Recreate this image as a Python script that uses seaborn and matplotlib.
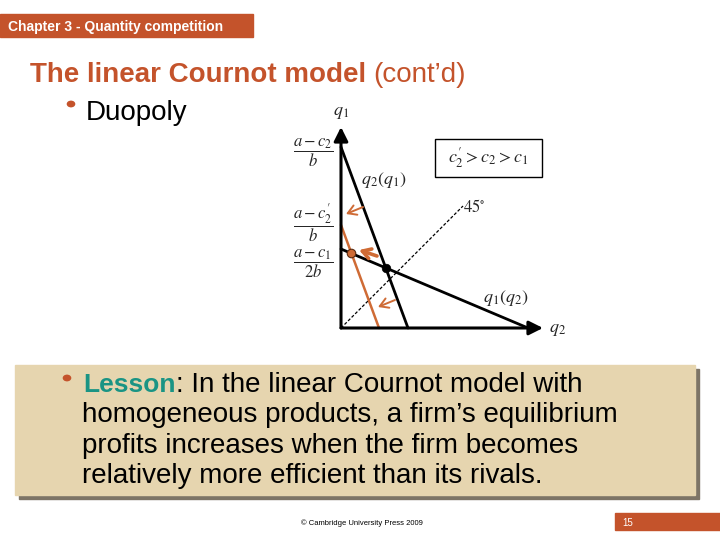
import matplotlib
matplotlib.use("Agg")
import matplotlib.pyplot as plt
import seaborn as sns
from matplotlib.patches import Rectangle, Circle

# Reaction functions (q2 on the horizontal axis, q1 on the vertical axis)
q2_axis_end = 20.2
q1_axis_top = 20.1
br2_q2 = [0, 6.7]        # q2(q1) with cost c2
br2_q1 = [18.1, 0]
br2_new_q2 = [0, 3.8]    # q2(q1) with cost c2'
br2_new_q1 = [10.3, 0]
br1_q2 = [0, 18.7]       # q1(q2)
br1_q1 = [7.9, 0]
diag_q2 = [0, 12.2]      # 45 degree line
diag_q1 = [0, 12.2]

# shift arrows, tail -> head
arrow_tails = [(2.2, 12.1), (3.6, 7.2), (5.4, 2.8)]
arrow_heads = [(0.5, 11.4), (1.8, 7.8), (3.7, 2.1)]
arrow_widths = [1.4, 2.6, 1.4]

intercept_labels = [r"$\dfrac{a-c_2}{b}$", r"$\dfrac{a-c_2^{\prime}}{b}$", r"$\dfrac{a-c_1}{2b}$"]
intercept_levels = [17.5, 10.5, 6.4]

lesson_first = ": In the linear Cournot model with"
lesson_rest = [
    "homogeneous products, a firm\u2019s equilibrium",
    "profits increases when the firm becomes",
    "relatively more efficient than its rivals.",
]

ORANGE = "#C4532B"
LINE_ORANGE = "#CF6B35"
TEAL = "#1A9484"

sns.set_theme(style="white")
plt.rcParams["font.family"] = ["Liberation Sans", "DejaVu Sans"]
plt.rcParams["mathtext.fontset"] = "stix"


def crossing(xa, ya, xb, yb):
    ma = (ya[1] - ya[0]) / (xa[1] - xa[0])
    mb = (yb[1] - yb[0]) / (xb[1] - xb[0])
    x = (yb[0] - ya[0]) / (ma - mb)
    return x, ya[0] + ma * x


W, H = 720, 540
fig = plt.figure(figsize=(7.2, 5.4), dpi=100)
fig.patch.set_facecolor("white")


def px(x, y):
    return x / W, 1 - y / H


# slide decoration
fig.patches.append(Rectangle(px(0, 37), 253 / W, 23 / H, transform=fig.transFigure,
                             color=ORANGE, zorder=0))
fig.text(*px(8, 31), "Chapter 3 - Quantity competition", color="white",
         fontsize=10, fontweight="bold", va="baseline")
fig.text(*px(30, 82), "The linear Cournot model", color=ORANGE,
         fontsize=20, fontweight="bold", va="baseline")
fig.text(*px(373, 82), "(cont\u2019d)", color=ORANGE, fontsize=20, va="baseline")
fig.patches.append(Circle(px(71, 104), 3.6 / W, transform=fig.transFigure, color=ORANGE))
fig.text(*px(86, 120), "Duopoly", color="black", fontsize=20, va="baseline")

# lesson box
fig.patches.append(Rectangle(px(19, 499), 680 / W, 130 / H, transform=fig.transFigure,
                             color="#7d7466", zorder=0))
fig.patches.append(Rectangle(px(15, 495), 680 / W, 130 / H, transform=fig.transFigure,
                             color="#E6D5AF", zorder=0))
fig.patches.append(Circle(px(67, 378), 3.6 / W, transform=fig.transFigure, color=ORANGE))
lesson = fig.text(*px(83, 392), "Lesson", color=TEAL, fontsize=19, fontweight="bold",
                  va="baseline")
renderer = fig.canvas.get_renderer()
lesson_end = lesson.get_window_extent(renderer).x1
fig.text(lesson_end / W + 1 / W, 1 - 392 / H, lesson_first, color="black",
         fontsize=20, va="baseline")
for i, line in enumerate(lesson_rest):
    fig.text(*px(82, 422 + 30.7 * i), line, color="black", fontsize=20, va="baseline")

fig.text(*px(362, 525), "\u00a9 Cambridge University Press 2009", color="black",
         fontsize=5.5, ha="center", va="baseline")
fig.patches.append(Rectangle(px(615, 530), 105 / W, 17 / H, transform=fig.transFigure,
                             color=ORANGE, zorder=0))
fig.text(*px(622, 526), "15", color="white", fontsize=7, va="baseline")

# diagram
ax = fig.add_axes([288 / W, 1 - 343 / H, 285 / W, 241 / H])
ax.set_facecolor("white")
ax.set_xlim(-5.3, 23.2)
ax.set_ylim(-1.5, 22.6)
ax.set_xticks([])
ax.set_yticks([])
sns.despine(ax=ax, left=True, bottom=True)

axis_arrow = dict(arrowstyle="-|>,head_length=0.7,head_width=0.35", color="black",
                  lw=2.2, shrinkA=0, shrinkB=0, mutation_scale=12)
ax.annotate("", xy=(0, q1_axis_top), xytext=(0, 0), arrowprops=axis_arrow)
ax.annotate("", xy=(q2_axis_end, 0), xytext=(0, 0), arrowprops=axis_arrow)

sns.lineplot(x=diag_q2, y=diag_q1, ax=ax, color="black", lw=0.9, linestyle=(0, (2.5, 1.5)))
sns.lineplot(x=br2_q2, y=br2_q1, ax=ax, color="black", lw=2.0)
sns.lineplot(x=br1_q2, y=br1_q1, ax=ax, color="black", lw=2.0)
sns.lineplot(x=br2_new_q2, y=br2_new_q1, ax=ax, color=LINE_ORANGE, lw=1.8)

eq_old = crossing(br2_q2, br2_q1, br1_q2, br1_q1)
eq_new = crossing(br2_new_q2, br2_new_q1, br1_q2, br1_q1)
sns.scatterplot(x=[eq_old[0]], y=[eq_old[1]], ax=ax, color="black", s=38,
                edgecolor="black", zorder=5)
sns.scatterplot(x=[eq_new[0]], y=[eq_new[1]], ax=ax, color=LINE_ORANGE, s=38,
                edgecolor="#5a2a10", linewidth=0.8, zorder=5)

for tail, head, w in zip(arrow_tails, arrow_heads, arrow_widths):
    ax.annotate("", xy=head, xytext=tail,
                arrowprops=dict(arrowstyle="->,head_length=0.5,head_width=0.3",
                                color=LINE_ORANGE, lw=w, shrinkA=0, shrinkB=0,
                                mutation_scale=12))

for lab, lev in zip(intercept_labels, intercept_levels):
    ax.text(-2.8, lev, lab, fontsize=12, ha="center", va="center")

ax.text(0, q1_axis_top + 0.6, r"$q_1$", fontsize=13, ha="center", va="bottom")
ax.text(q2_axis_end + 0.6, -0.2, r"$q_2$", fontsize=13, ha="left", va="center")
ax.text(4.25, 14.85, r"$q_2(q_1)$", fontsize=13, ha="center", va="center")
ax.text(16.45, 2.95, r"$q_1(q_2)$", fontsize=13, ha="center", va="center")
ax.text(13.3, 12.2, r"$45^{\circ}$", fontsize=12, ha="center", va="center")
ax.add_patch(Rectangle((9.4, 15.1), 10.7, 3.8, fill=False, lw=1.0, edgecolor="black"))
ax.text(14.75, 17.0, r"$c_2^{\prime} > c_2 > c_1$", fontsize=13, ha="center", va="center")

fig.savefig("out.png", dpi=100)
